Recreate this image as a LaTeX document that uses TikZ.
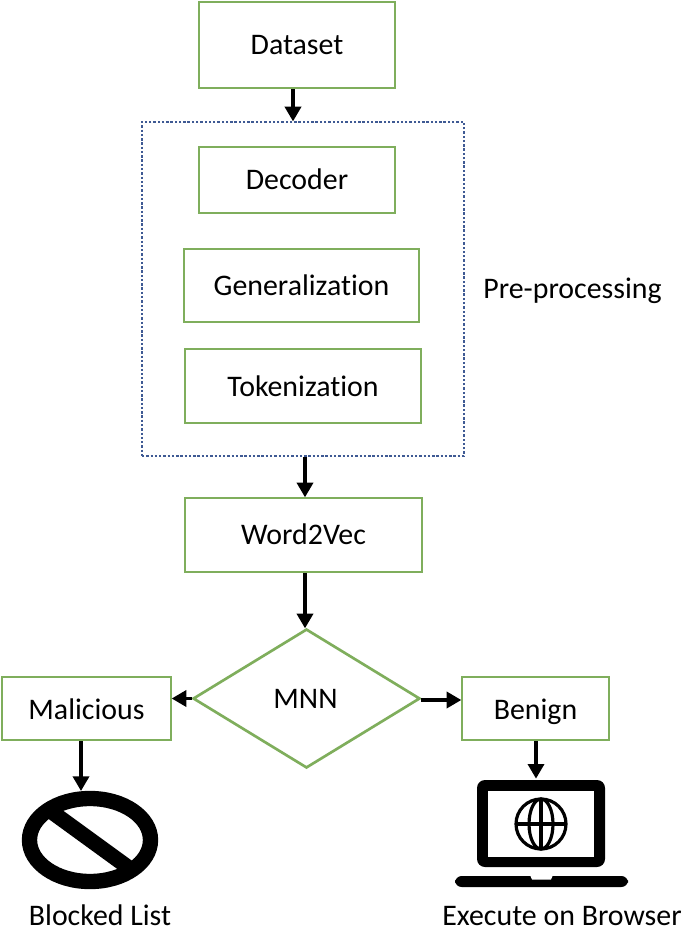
\documentclass[tikz,border=0pt]{standalone}
\usepackage{fontspec}
\setmainfont[Ligatures=NoCommon]{Carlito}
\usetikzlibrary{arrows.meta,shapes.geometric}
\definecolor{boxgreen}{HTML}{7FAE5C}
\definecolor{groupblue}{HTML}{3F5A94}
\tikzset{
  stage/.style={draw=boxgreen,line width=2pt,fill=white,minimum width=#1,minimum height=1cm,inner sep=0pt,text height=14.5pt,text depth=0pt,font=\fontsize{22.4}{26}\selectfont},
  caption/.style={inner sep=0pt,text height=14.5pt,text depth=0pt,font=\fontsize{22.4}{26}\selectfont},
  flow/.style={draw=black,line width=2.6pt,-{Triangle[length=11pt,width=12pt]},shorten >=-0.5pt},
}
% Lengths are given per unit of a 685 by 930 grid, with y running downward.
\newcommand{\boxat}[7]{%
  \node[stage=#4*0.75pt,minimum height=#5*0.75pt,#7] (#1) at (#2,#3) {#6};}
\begin{document}
\begin{tikzpicture}[x=0.75pt,y=-0.75pt]
\useasboundingbox (0,0) rectangle (685,930);

% Pipeline stages
\boxat{dataset}{297}{45}{196}{86}{Dataset}{}
\boxat{decoder}{297}{180}{196}{66}{Decoder}{}
\boxat{general}{301.5}{285.5}{235}{73}{Generalization}{}
\boxat{token}{303}{386}{236}{74}{Tokenization}{text height=16pt}
\boxat{wordvec}{303.5}{535}{237}{74}{Word2Vec}{}
\boxat{malicious}{86.5}{708.5}{169}{63}{Malicious}{text height=16.75pt}
\boxat{benign}{535.5}{708.5}{147}{63}{Benign}{text height=16.75pt}

% Pre-processing group
\node[draw=groupblue,line width=1.9pt,dash pattern=on 1.8pt off 1.4pt,minimum width=322*0.75pt,minimum height=334*0.75pt,inner sep=0pt] (group) at (303,289) {};
\node[caption] (grouplabel) at (572.5,288.5) {Pre-processing};

% Classifier decision
\node[draw=boxgreen,line width=2pt,fill=white,diamond,aspect=1.63,minimum width=227*0.75pt,minimum height=139*0.75pt,inner sep=0pt] (mnn) at (306.5,698.5) {};
\node[caption] (mnnlabel) at (305.5,699) {MNN};

% Blocked symbol
\coordinate (blocked) at (90,840);
\draw[line width=11.5pt] (blocked) ellipse [x radius=60.5,y radius=41.5];
\draw[line width=11.5pt] (52,812) -- (129,868);
\node[caption] (blockedlabel) at (100,916) {Blocked List};

% Laptop with globe on its screen
\coordinate (laptop) at (541,778);
\fill[rounded corners=6pt] (477,867) -- (477,780) -- (605,780) -- (605,867) -- cycle;
\fill[white] (488,791) rectangle (594,857);
\fill[rounded corners=5pt] (455,876) -- (455,887) -- (628,887) -- (628,876) -- cycle;
\fill[white] (530,875) -- (532,879.5) -- (551,879.5) -- (553,875) -- cycle;
\begin{scope}[line width=2.4pt]
  \draw (541,824) circle[radius=25];
  \draw (541,824) ellipse[x radius=12,y radius=25];
  \draw (541,799) -- (541,849);
  \draw (516,824) -- (566,824);
\end{scope}
\node[caption] (browserlabel) at (562,916) {Execute on Browser};

% Flow between the stages
\coordinate (c1) at (293,0);
\coordinate (c2) at (305,0);
\coordinate (c3) at (81,0);
\coordinate (c4) at (536,0);
\coordinate (c5) at (0,700);
\draw[flow] (dataset.south -| c1) -- (group.north -| c1);
\draw[flow] (group.south -| c2) -- (wordvec.north -| c2);
\draw[flow] (wordvec.south -| c2) -- (mnn.north -| c2);
\draw[flow] (mnn.west) -- (malicious.east |- mnn.west);
\draw[flow] (mnn.east |- c5) -- (benign.west |- c5);
\draw[flow] (malicious.south -| c3) -- ++(0,49);
\draw[flow] (benign.south -| c4) -- (laptop -| c4);
\end{tikzpicture}
\end{document}
